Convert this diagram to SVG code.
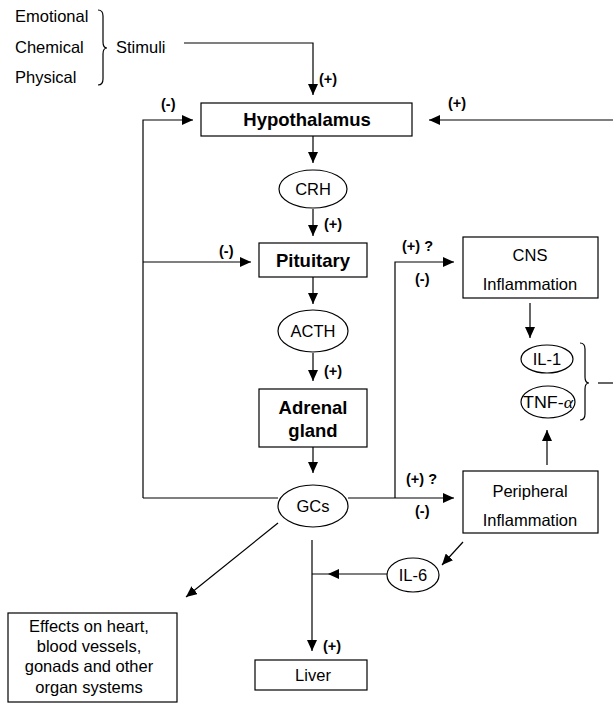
<svg xmlns="http://www.w3.org/2000/svg" width="613" height="704" viewBox="0 0 613 704">
<defs>
<marker id="ah" markerUnits="userSpaceOnUse" markerWidth="12" markerHeight="10" refX="11" refY="5" orient="auto">
<path d="M0,0 L11,5 L0,10 Z" fill="#000"/>
</marker>
<style>
.t{font-family:"Liberation Sans",Arial,sans-serif;font-size:16.5px;fill:#000}
.b{font-family:"Liberation Sans",Arial,sans-serif;font-size:18.5px;font-weight:bold;fill:#000}
.l{font-family:"Liberation Sans",Arial,sans-serif;font-size:14.5px;font-weight:bold;fill:#000}
.g{font-family:"Liberation Serif","Times New Roman",serif;font-style:italic}
.s{fill:#fff;stroke:#000;stroke-width:1.2}
.c{fill:none;stroke:#000;stroke-width:1.2}
.a{fill:none;stroke:#000;stroke-width:1.2;marker-end:url(#ah)}
</style>
</defs>
<rect width="613" height="704" fill="#fff"/>
<g id="stimuli">
<text class="t" x="15" y="22">Emotional</text>
<text class="t" x="15" y="53">Chemical</text>
<text class="t" x="15" y="83">Physical</text>
<path class="c" d="M98,10 Q103,10 103,16 L103,42 Q103,48 107,48 Q103,48 103,54 L103,79 Q103,85 98,85"/>
<text class="t" x="116" y="53">Stimuli</text>
</g>
<g id="connectors">
<path class="a" d="M184,43 L313,43 L313,95"/>
<path class="a" d="M313,136 L313,163"/>
<path class="a" d="M313,209 L313,236"/>
<path class="a" d="M313,277 L313,304"/>
<path class="a" d="M313,353 L313,381"/>
<path class="a" d="M313,447 L313,473"/>
<path class="a" d="M143,498 L143,120 L193,120"/>
<path class="c" d="M278,498 L143,498"/>
<path class="a" d="M143,262 L251,262"/>
<path class="a" d="M348,498 L454,498"/>
<path class="a" d="M395,498 L395,262 L454,262"/>
<path class="a" d="M613,120 L429,120"/>
<path class="a" d="M530,303 L530,338"/>
<path class="a" d="M547,465 L547,430"/>
<path class="c" d="M598,383 L613,383"/>
<path class="a" d="M463,542 L442,565"/>
<path class="c" d="M387,574 L312,574"/>
<path d="M328,574 L339,569 L339,579 Z" fill="#000"/>
<path class="a" d="M312,540 L312,651"/>
<path class="a" d="M278,523 L186,597"/>
</g>
<g id="labels">
<text class="l" x="319" y="84">(+)</text>
<text class="l" x="161" y="109">(-)</text>
<text class="l" x="448" y="108">(+)</text>
<text class="l" x="324" y="229">(+)</text>
<text class="l" x="219" y="256">(-)</text>
<text class="l" x="324" y="376">(+)</text>
<text class="l" x="402" y="251">(+) ?</text>
<text class="l" x="415" y="284">(-)</text>
<text class="l" x="406" y="484">(+) ?</text>
<text class="l" x="415" y="516">(-)</text>
<text class="l" x="323" y="651">(+)</text>
</g>
<g id="hypothalamus">
<rect class="s" x="201" y="103" width="211" height="33"/>
<text class="b" x="307" y="126" text-anchor="middle">Hypothalamus</text>
</g>
<g id="crh">
<ellipse class="s" cx="313" cy="189" rx="34" ry="19"/>
<text class="t" x="313" y="195" text-anchor="middle">CRH</text>
</g>
<g id="pituitary">
<rect class="s" x="259" y="243" width="108" height="34"/>
<text class="b" x="313" y="266.5" text-anchor="middle">Pituitary</text>
</g>
<g id="acth">
<ellipse class="s" cx="313" cy="331" rx="35" ry="21"/>
<text class="t" x="313" y="337" text-anchor="middle">ACTH</text>
</g>
<g id="adrenal">
<rect class="s" x="259" y="389" width="108" height="58"/>
<text class="b" x="313" y="414" text-anchor="middle">Adrenal</text>
<text class="b" x="313" y="437" text-anchor="middle">gland</text>
</g>
<g id="gcs">
<ellipse class="s" cx="313" cy="506" rx="35" ry="21"/>
<text class="t" x="313" y="512" text-anchor="middle">GCs</text>
</g>
<g id="cns">
<rect class="s" x="463" y="237" width="135" height="61"/>
<text class="t" x="530" y="261" text-anchor="middle">CNS</text>
<text class="t" x="530" y="290" text-anchor="middle">Inflammation</text>
</g>
<g id="il1">
<ellipse class="s" cx="547" cy="359" rx="26" ry="14"/>
<text class="t" x="547" y="365" text-anchor="middle">IL-1</text>
</g>
<g id="tnf">
<ellipse class="s" cx="548" cy="402" rx="27" ry="16"/>
<text class="t" x="548" y="408" text-anchor="middle" textLength="50" lengthAdjust="spacingAndGlyphs">TNF-<tspan class="g">α</tspan></text>
</g>
<g id="brace2">
<path class="c" d="M580,343 Q585,343 585,349 L585,377 Q585,383 589,383 Q585,383 585,389 L585,414 Q585,420 580,420"/>
</g>
<g id="peripheral">
<rect class="s" x="463" y="471" width="135" height="62"/>
<text class="t" x="530" y="497" text-anchor="middle">Peripheral</text>
<text class="t" x="530" y="526" text-anchor="middle">Inflammation</text>
</g>
<g id="il6">
<ellipse class="s" cx="413" cy="575" rx="26" ry="17"/>
<text class="t" x="413" y="581" text-anchor="middle">IL-6</text>
</g>
<g id="effects">
<rect class="s" x="8" y="613" width="169" height="89"/>
<text class="t" x="89" y="632" text-anchor="middle">Effects on heart,</text>
<text class="t" x="89" y="652" text-anchor="middle">blood vessels,</text>
<text class="t" x="89" y="672" text-anchor="middle">gonads and other</text>
<text class="t" x="89" y="693" text-anchor="middle">organ systems</text>
</g>
<g id="liver">
<rect class="s" x="255" y="660" width="112" height="30"/>
<text class="t" x="313" y="681" text-anchor="middle">Liver</text>
</g>
</svg>
